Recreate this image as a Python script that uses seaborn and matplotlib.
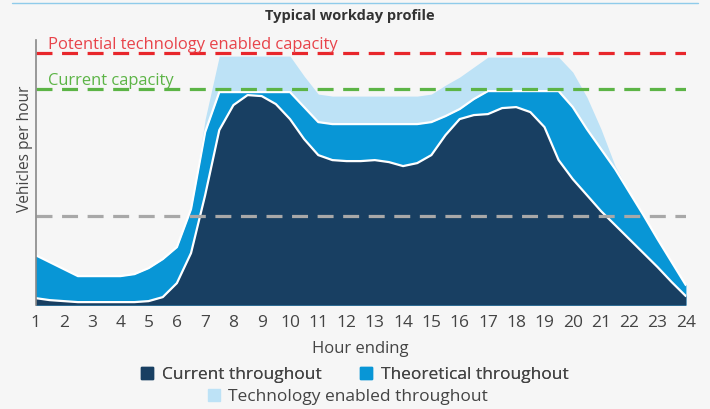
import numpy as np
import matplotlib.pyplot as plt
import seaborn as sns
from matplotlib.lines import Line2D
from matplotlib.patches import Patch

# hour ending, half-hour steps
hours = np.arange(1, 24.5, 0.5)

current = [7, 5, 4, 3, 3, 3, 3, 3, 4, 8, 22, 52, 110, 175, 200, 210, 209, 201,
           186, 166, 150, 145, 144, 144, 145, 143, 139, 142, 150, 170, 186, 190,
           191, 197, 198, 193, 178, 145, 126, 110, 94, 80, 66, 52, 38, 23, 9]
theoretical = [50, 43, 36, 29, 29, 29, 29, 31, 37, 46, 58, 96, 173, 213, 213, 213,
               213, 213, 213, 198, 183, 181, 181, 181, 181, 181, 181, 181, 183,
               189, 196, 206, 214, 214, 214, 214, 214, 214, 198, 176, 156, 136,
               113, 90, 66, 43, 20]
technology = [50, 43, 36, 29, 29, 29, 29, 31, 37, 46, 58, 96, 186, 249, 249, 249,
              249, 249, 249, 229, 211, 209, 209, 209, 209, 209, 209, 209, 211,
              220, 228, 238, 248, 248, 248, 248, 248, 248, 233, 208, 176, 139,
              113, 90, 66, 43, 20]

potential_capacity = 252
current_capacity = 216
gray_level = 89

dark = '#183f62'
mid = '#0896d6'
light = '#bde2f6'
bg = '#f6f6f6'
txt = '#444444'

sns.set_theme(style='white')
plt.rcParams['font.family'] = ['Open Sans', 'DejaVu Sans']

fig = plt.figure(figsize=(7.1, 4.09), dpi=100, facecolor=bg)
ax = fig.add_axes([0.050, 0.254, 0.916, 0.648], facecolor=bg)

ax.fill_between(hours, technology, color=light, lw=0)
ax.fill_between(hours, theoretical, color=mid, lw=0)
sns.lineplot(x=hours, y=theoretical, color='white', lw=1.6, ax=ax)
ax.fill_between(hours, current, color=dark, lw=0)
sns.lineplot(x=hours, y=current, color='white', lw=1.6, ax=ax)

ax.axhline(potential_capacity, color='#e8262b', lw=2.3, dashes=(5, 3))
ax.axhline(current_capacity, color='#5cb446', lw=2.3, dashes=(5, 3))
ax.axhline(gray_level, color='#a8a8a8', lw=2.3, dashes=(5, 3))

ax.text(1.45, potential_capacity + 4.5, 'Potential technology enabled capacity',
        color='#e8434a', fontsize=11.9)
ax.text(1.45, current_capacity + 4.5, 'Current capacity', color='#5cb446', fontsize=11.9)

ax.set_xlim(1, 24)
ax.set_ylim(0, 265)
ax.set_xticks(range(1, 25))
ax.set_yticks([])
ax.tick_params(axis='x', length=0, labelsize=12.5, labelcolor=txt, pad=7)
for s in ['top', 'right', 'bottom']:
    ax.spines[s].set_visible(False)
ax.spines['left'].set_color('#888888')
ax.spines['left'].set_linewidth(1.2)
ax.set_xlabel('Hour ending', fontsize=12, color=txt, labelpad=7)
ax.set_ylabel('Vehicles per hour', fontsize=11.2, color=txt)
ax.yaxis.set_label_coords(-0.004, 0.59)

fig.text(0.493, 0.962, 'Typical workday profile', ha='center', va='center',
         fontsize=10.5, fontweight='bold', color='#333333')
fig.add_artist(Line2D([0.017, 0.983], [0.992, 0.992], color='#8fcbea', lw=1))

h1 = [Patch(color=dark), Patch(color=mid)]
leg1 = fig.legend(h1, ['Current throughout', 'Theoretical throughout'], ncol=2,
                  loc='center', bbox_to_anchor=(0.5, 0.083), frameon=False,
                  fontsize=12.5, handlelength=0.7, handleheight=0.7,
                  handletextpad=0.5, columnspacing=2.2, labelcolor=txt)
fig.add_artist(leg1)
fig.legend([Patch(color=light)], ['Technology enabled throughout'],
           loc='center', bbox_to_anchor=(0.49, 0.029), frameon=False,
           fontsize=12.5, handlelength=0.7, handleheight=0.7,
           handletextpad=0.5, labelcolor=txt)

fig.savefig('out.png', dpi=100, facecolor=bg)
